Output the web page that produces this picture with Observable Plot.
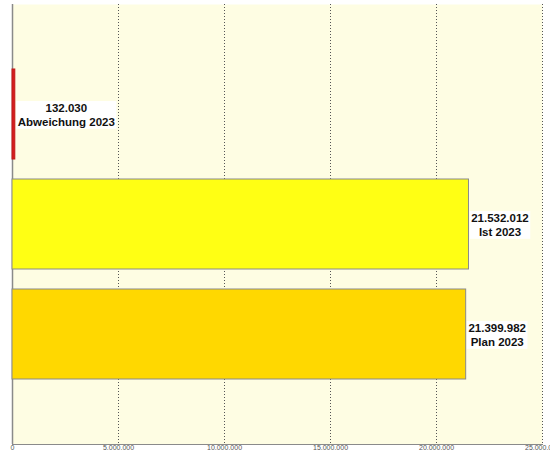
<!DOCTYPE html>
<html><head><meta charset="utf-8">
<script src="https://cdn.jsdelivr.net/npm/d3@7"></script>
<script src="https://cdn.jsdelivr.net/npm/@observablehq/plot@0.6"></script>
<style>
html,body{margin:0;padding:0;background:#fff;overflow:hidden;}
#chart svg{display:block;}
</style>
</head><body><div id="chart"></div>
<script>
const categories = ["Abweichung 2023", "Ist 2023", "Plan 2023"];
const values = [132030, 21532012, 21399982];
const barColors = ["#d41e1e", "#ffff14", "#ffd800"];
const barStrokes = ["#c01818", "#8a8a8a", "#8a8a8a"];
const xTicks = [0, 5000000, 10000000, 15000000, 20000000, 25000000];

const de = d3.formatLocale({decimal: ",", thousands: ".", grouping: [3], currency: ["", " €"]});
const fmt = de.format(",d");

const data = categories.map((c, i) => ({
  cat: c, value: values[i], color: barColors[i], stroke: barStrokes[i],
  label: fmt(values[i]) + "\n" + c
}));

const chart = Plot.plot({
  width: 550, height: 452,
  marginLeft: 12, marginRight: 8, marginTop: 4, marginBottom: 8,
  style: {background: "#fff", fontFamily: "Liberation Sans, Arial, sans-serif"},
  x: {domain: [0, 25000000], axis: null},
  y: {domain: categories, axis: null, paddingInner: 0.18, paddingOuter: 0.59},
  marks: [
    Plot.frame({fill: "#fefde3", stroke: null}),
    Plot.gridX(xTicks, {stroke: "#555", strokeOpacity: 1, strokeDasharray: "1,2"}),
    Plot.axisX({ticks: xTicks, tickFormat: fmt, tickSize: 0, tickPadding: 1, fontSize: 7, fill: "#555", label: null}),
    Plot.ruleX([0], {stroke: "#8a8a8a", strokeWidth: 1.5}),
    Plot.frame({anchor: "bottom", stroke: "#8a8a8a"}),
    Plot.barX(data, {x: "value", y: "cat", fill: "color", stroke: "stroke", strokeWidth: 1}),
    Plot.text(data.filter(d => d.value < 1000000), {x: "value", y: "cat", text: "label", dx: 51, fontSize: 11.5, fontWeight: "bold", fill: "#111", lineHeight: 1.2, textAnchor: "middle"}),
    Plot.text(data.filter(d => d.value >= 1000000), {x: "value", y: "cat", text: "label", dx: 31, fontSize: 11.5, fontWeight: "bold", fill: "#111", lineHeight: 1.2, textAnchor: "middle"})
  ]
});
document.getElementById("chart").appendChild(chart);

// white boxes behind the value labels
chart.querySelectorAll('g[aria-label="text"] text').forEach(t => {
  const b = t.getBBox();
  const r = document.createElementNS("http://www.w3.org/2000/svg", "rect");
  r.setAttribute("x", b.x - 1.5);
  r.setAttribute("y", b.y - 1);
  r.setAttribute("width", b.width + 3);
  r.setAttribute("height", b.height + 2);
  r.setAttribute("fill", "#fff");
  const tr = t.getAttribute("transform");
  if (tr) r.setAttribute("transform", tr);
  t.parentNode.insertBefore(r, t);
});
</script>
</body></html>
